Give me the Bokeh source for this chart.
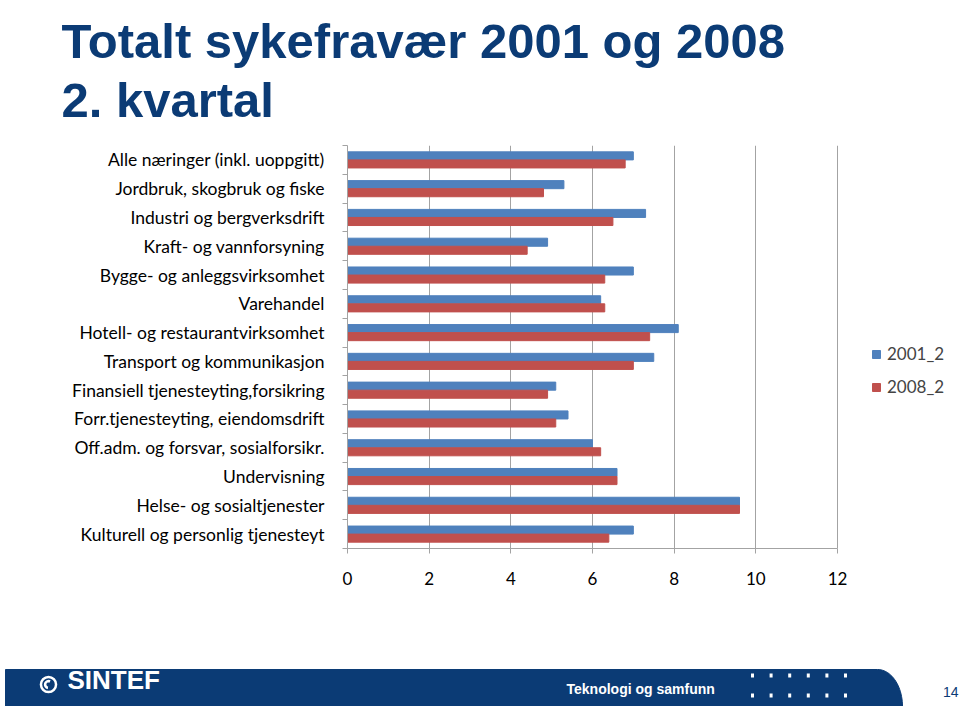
import numpy as np
from bokeh.plotting import figure
from bokeh.models import Range1d, FixedTicker, Legend, LegendItem, Label, ColumnDataSource
from bokeh.transform import dodge
from bokeh.embed import file_html
from bokeh.resources import INLINE

# ---------------- data ----------------
title_lines = ["Totalt sykefravær 2001 og 2008", "2. kvartal"]
categories = [
    "Alle næringer (inkl. uoppgitt)",
    "Jordbruk, skogbruk og fiske",
    "Industri og bergverksdrift",
    "Kraft- og vannforsyning",
    "Bygge- og anleggsvirksomhet",
    "Varehandel",
    "Hotell- og restaurantvirksomhet",
    "Transport og kommunikasjon",
    "Finansiell tjenesteyting,forsikring",
    "Forr.tjenesteyting, eiendomsdrift",
    "Off.adm. og forsvar, sosialforsikr.",
    "Undervisning",
    "Helse- og sosialtjenester",
    "Kulturell og personlig tjenesteyt",
]
v2001 = [7.0, 5.3, 7.3, 4.9, 7.0, 6.2, 8.1, 7.5, 5.1, 5.4, 6.0, 6.6, 9.6, 7.0]
v2008 = [6.8, 4.8, 6.5, 4.4, 6.3, 6.3, 7.4, 7.0, 4.9, 5.1, 6.2, 6.6, 9.6, 6.4]
series_names = ["2001_2", "2008_2"]
x_ticks = [0, 2, 4, 6, 8, 10, 12]
footer_text = "Teknologi og samfunn"
brand = "SINTEF"
page_no = "14"

NAVY = "#0B3B75"
BLUE = "#4F81BD"
RED = "#C0504D"
GRID = "#A3A3A3"
FONT = "Lato"
W = 960


def blank(h):
    f = figure(width=W, height=h, x_range=Range1d(0, W), y_range=Range1d(0, h),
               output_backend="svg", toolbar_location=None, title_location=None,
               x_axis_location=None, y_axis_location=None, min_border=0)
    f.outline_line_color = None
    f.grid.visible = False
    return f


# ---------------- title ----------------
th = 138
pt = blank(th)
for txt, page_y in zip(title_lines, [40, 99]):
    pt.add_layout(Label(x=61, y=th - page_y, text=txt, text_font="Liberation Sans",
                        text_font_style="bold", text_font_size="49px",
                        text_color=NAVY, text_baseline="alphabetic"))

# ---------------- chart ----------------
n = len(categories)
ypos = [n - 1 - i for i in range(n)]
src = ColumnDataSource(dict(cat=categories, y=ypos, a=v2001, b=v2008))

axis_px = 490           # pixel length of the 0..12 axis
frame_left, frame_right = 347, 955
x_end = x_ticks[-1] * (frame_right - frame_left) / axis_px

p = figure(width=W, height=662 - th, x_range=Range1d(0, x_end), y_range=Range1d(-0.5, n - 0.5),
           output_backend="svg", toolbar_location=None, title_location=None,
           min_border_left=frame_left, min_border_right=W - frame_right,
           min_border_top=145 - th, min_border_bottom=114)
p.outline_line_color = None

r1 = p.hbar(y=dodge("y", 0.14), left=0, right="a", height=0.28, source=src,
            fill_color=BLUE, line_color=BLUE)
r2 = p.hbar(y=dodge("y", -0.14), left=0, right="b", height=0.28, source=src,
            fill_color=RED, line_color=RED)

p.xaxis.ticker = FixedTicker(ticks=x_ticks)
p.xaxis.bounds = (x_ticks[0], x_ticks[-1])
p.xaxis.axis_line_color = GRID
p.xaxis.major_tick_line_color = GRID
p.xaxis.major_tick_out = 5
p.xaxis.major_tick_in = 0
p.xaxis.minor_tick_line_color = None
p.xaxis.major_label_text_font = FONT
p.xaxis.major_label_text_font_size = "17px"
p.xaxis.major_label_text_color = "black"
p.xaxis.major_label_standoff = 18

p.yaxis.ticker = FixedTicker(ticks=ypos, minor_ticks=[k - 0.5 for k in range(n + 1)])
p.yaxis.major_label_overrides = {y: c for y, c in zip(ypos, categories)}
p.yaxis.axis_line_color = GRID
p.yaxis.major_tick_line_color = None
p.yaxis.major_tick_out = 0
p.yaxis.major_tick_in = 0
p.yaxis.minor_tick_line_color = GRID
p.yaxis.minor_tick_out = 5
p.yaxis.minor_tick_in = 0
p.yaxis.major_label_text_font = FONT
p.yaxis.major_label_text_font_size = "17.5px"
p.yaxis.major_label_text_color = "black"
p.yaxis.major_label_standoff = 18

p.xgrid.ticker = FixedTicker(ticks=x_ticks[1:])
p.xgrid.grid_line_color = GRID
p.ygrid.visible = False

legend = Legend(items=[LegendItem(label=series_names[0], renderers=[r1]),
                       LegendItem(label=series_names[1], renderers=[r2])],
                location=(524, 151), orientation="vertical",
                glyph_width=10, glyph_height=10, label_height=20, spacing=12,
                padding=0, margin=0, label_standoff=6,
                label_text_font=FONT, label_text_font_size="17px",
                border_line_color=None, background_fill_alpha=0)
p.add_layout(legend)

# ---------------- footer ----------------
fh = 44
pf = blank(fh)

t = np.linspace(0, np.pi / 2, 24)
cx, rx, top = 877, 25, 37
bx = [5, 5] + list(cx + rx * np.sin(t))
by = [0, top] + list(top * np.cos(t))
pf.patch(bx, by, fill_color=NAVY, line_color=NAVY)

pf.annulus(x=48, y=22, inner_radius=6.3, outer_radius=8.8, fill_color="white", line_color=None)
pf.arc(x=48, y=22, radius=3.4, start_angle=np.pi * 0.35, end_angle=np.pi * 1.45,
       line_color="white", line_width=2.6)
pf.add_layout(Label(x=67, y=12, text=brand, text_font="Liberation Sans", text_font_style="bold",
                    text_font_size="26px", text_color="white"))
pf.add_layout(Label(x=566, y=10, text=footer_text, text_font="Liberation Sans",
                    text_font_style="bold", text_font_size="14px", text_color="white"))
dx = [752 + 18.6 * k for k in range(6)]
pf.rect(x=dx * 2, y=[31] * 6 + [11] * 6, width=3, height=4, fill_color="white", line_color=None)
pf.add_layout(Label(x=958, y=10, text=page_no, text_font="Liberation Sans", text_font_size="14px",
                    text_color=NAVY, text_align="right"))

open("out.html", "w").write(file_html([pt, p, pf], INLINE))
